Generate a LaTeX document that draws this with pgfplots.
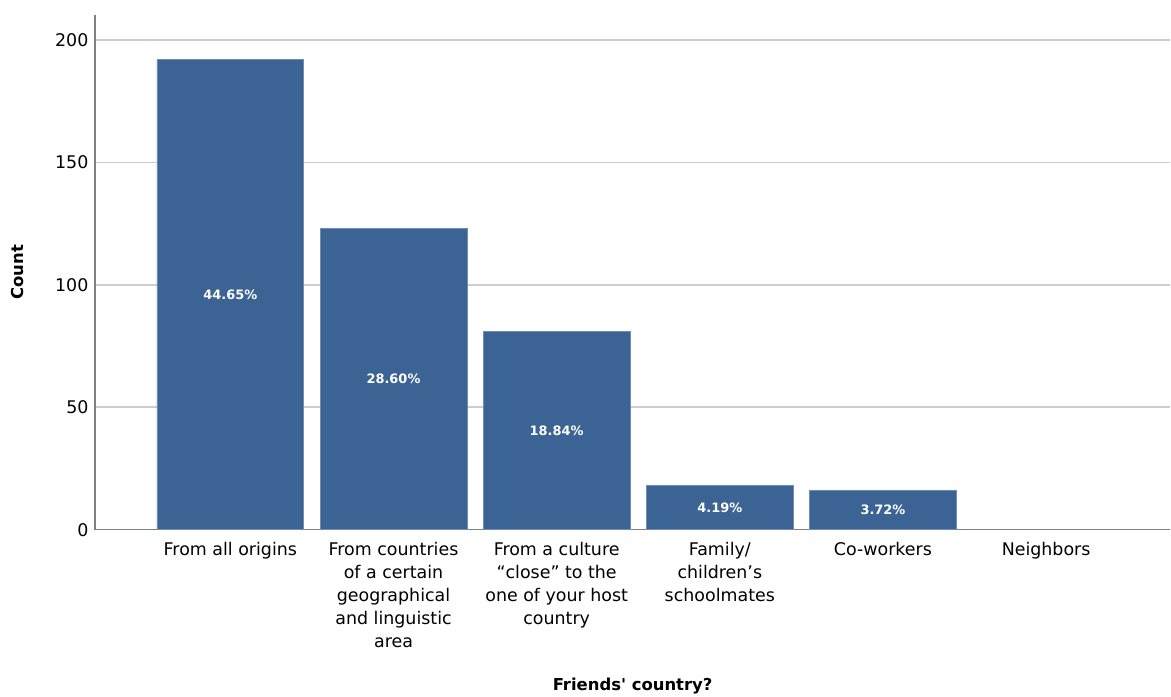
\documentclass[border=0pt]{standalone}
\usepackage{fontspec}
\setmainfont{DejaVu Sans}[Ligatures=TeXOff]
\usepackage{pgfplots}
\pgfplotsset{compat=1.18}
\usepackage{pgfplotstable}
\definecolor{barcol}{RGB}{59,99,148}
\definecolor{baredge}{RGB}{110,140,180}
\definecolor{gridcol}{RGB}{205,205,205}
\definecolor{axcol}{RGB}{128,128,128}
\pgfplotstableread{
x y pct
0 192 44.65
1 123 28.60
2 81 18.84
3 18 4.19
4 16 3.72
}\friends
\begin{document}
\begin{tikzpicture}
\path (-95bp,-165bp) rectangle (1076bp,530bp);
\begin{axis}[
  at={(0,0)}, anchor=south west,
  scale only axis,
  width=1076bp, height=515bp,
  xmin=-0.83, xmax=5.761,
  ymin=0, ymax=210.2,
  axis x line=bottom, axis y line=left,
  axis line style={draw=axcol, line width=1.3bp, -},
  major tick length=0pt,
  ytick={0,50,100,150,200},
  xtick={0,1,2,3,4,5},
  xticklabels={
    From all origins,
    {From countries\\of a certain\\geographical\\and linguistic\\area},
    {From a culture\\“close” to the\\one of your host\\country},
    {Family/\\children’s\\schoolmates},
    Co-workers,
    Neighbors},
  xticklabel style={align=center, anchor=north, yshift=-9bp,
    font=\fontsize{17.5}{23}\selectfont},
  yticklabel style={anchor=east, xshift=-3bp,
    font=\fontsize{17.5}{21}\selectfont},
  /pgf/number format/assume math mode=true,
  ymajorgrids,
  grid style={draw=gridcol, line width=1.5bp},
  xlabel={Friends' country?},
  ylabel={Count},
  every axis x label/.style={at={(axis description cs:0.5,-0.303)}, anchor=center,
    font=\bfseries\fontsize{16.5}{20}\selectfont},
  every axis y label/.style={at={(axis description cs:-0.0716,0.5)}, anchor=center, rotate=90,
    font=\bfseries\fontsize{16.5}{20}\selectfont},
  clip=false,
]
\addplot[ybar, bar width=0.9, fill=barcol, draw=baredge, line width=0.8bp,
  point meta=explicit,
  visualization depends on={y \as \rawy},
  nodes near coords={\pgfmathprintnumber[fixed,precision=2,fixed zerofill]{\pgfplotspointmeta}\%},
  every node near coord/.append style={anchor=center, text=white,
    font=\bfseries\fontsize{13}{15}\selectfont,
    shift={(axis direction cs:0,-\rawy/2)}},
] table[x=x, y=y, meta=pct] {\friends};
\end{axis}
\end{tikzpicture}
\end{document}
